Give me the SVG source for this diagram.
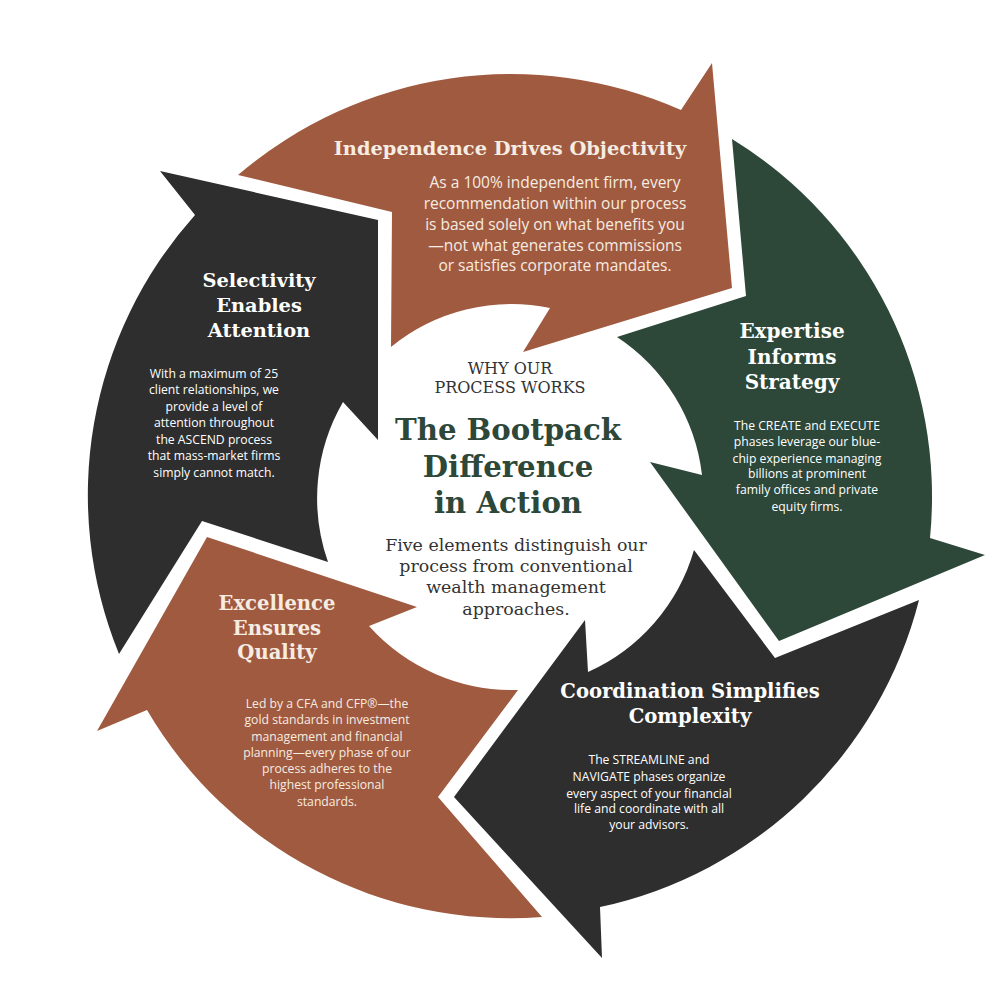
<svg xmlns="http://www.w3.org/2000/svg" width="1000" height="1000" viewBox="0 0 1000 1000">
<style>
.brown{fill:#a05a3f}
.dark{fill:#2e2e2e}
.green{fill:#2d4739}
.title{font-family:"DejaVu Serif","Liberation Serif",serif;font-weight:bold;text-anchor:middle}
.body{font-family:"Open Sans","Noto Sans",sans-serif;text-anchor:middle}
.lt{fill:#ffffff}
.cr{fill:#f6ece2}
.center{font-family:"DejaVu Serif","Liberation Serif",serif;text-anchor:middle;fill:#333333}
</style>
<rect width="1000" height="1000" fill="#ffffff"/>

<g id="independence">
<path class="brown" d="M238,175 L392,212 L391,347 A191 191 0 0 1 550,308 L523,352 L732,288 L712,63 L681,110 A420 420 0 0 0 238,175 Z"/>
<text class="title cr" x="510" y="155" font-size="19.4">Independence Drives Objectivity</text>
<g class="body cr" font-size="15.5">
<text x="555" y="188">As a 100% independent firm, every</text>
<text x="555" y="209">recommendation within our process</text>
<text x="555" y="230">is based solely on what benefits you</text>
<text x="555" y="251">—not what generates commissions</text>
<text x="555" y="271">or satisfies corporate mandates.</text>
</g>
</g>

<g id="expertise">
<path class="green" d="M732,139 L746,296 L617,337 A192 192 0 0 1 702,475 L650,462 L779,641 L985,555 L930,538 A420 420 0 0 0 732,139 Z"/>
<g class="title lt" font-size="20">
<text x="792" y="338">Expertise</text>
<text x="792" y="364">Informs</text>
<text x="792" y="389">Strategy</text>
</g>
<g class="body lt" font-size="12.2">
<text x="807" y="430">The CREATE and EXECUTE</text>
<text x="807" y="446">phases leverage our blue-</text>
<text x="807" y="463">chip experience managing</text>
<text x="807" y="478">billions at prominent</text>
<text x="807" y="494">family offices and private</text>
<text x="807" y="511">equity firms.</text>
</g>
</g>

<g id="coordination">
<path class="dark" d="M919,600 L775,658 L694,550 A192 192 0 0 1 588,672 L585,620 L454,797 L602,958 L600,907 A420 420 0 0 0 919,600 Z"/>
<g class="title lt" font-size="19.6">
<text x="690" y="698">Coordination Simplifies</text>
<text x="690" y="723">Complexity</text>
</g>
<g class="body lt" font-size="12.2">
<text x="649" y="764">The STREAMLINE and</text>
<text x="649" y="781">NAVIGATE phases organize</text>
<text x="649" y="798">every aspect of your financial</text>
<text x="649" y="813">life and coordinate with all</text>
<text x="649" y="829">your advisors.</text>
</g>
</g>

<g id="excellence">
<path class="brown" d="M542,917 L438,797 L518,690 A193 193 0 0 1 369,626 L417,607 L207,537 L97,731 L147,710 A421 421 0 0 0 542,917 Z"/>
<g class="title cr" font-size="19.6">
<text x="277" y="610">Excellence</text>
<text x="277" y="635">Ensures</text>
<text x="277" y="659">Quality</text>
</g>
<g class="body cr" font-size="12.2">
<text x="327" y="708">Led by a CFA and CFP®—the</text>
<text x="327" y="724">gold standards in investment</text>
<text x="327" y="741">management and financial</text>
<text x="327" y="757">planning—every phase of our</text>
<text x="327" y="773">process adheres to the</text>
<text x="327" y="789">highest professional</text>
<text x="327" y="806">standards.</text>
</g>
</g>

<g id="selectivity">
<path class="dark" d="M160,171 L378,220 L378,440 L343,402 A192 192 0 0 0 328,562 L202,521 L119,654 A420 420 0 0 1 195,215 Z"/>
<g class="title lt" font-size="19.4">
<text x="259" y="287">Selectivity</text>
<text x="259" y="312">Enables</text>
<text x="259" y="337">Attention</text>
</g>
<g class="body lt" font-size="12.2">
<text x="214" y="378">With a maximum of 25</text>
<text x="214" y="394">client relationships, we</text>
<text x="214" y="411">provide a level of</text>
<text x="214" y="427">attention throughout</text>
<text x="214" y="444">the ASCEND process</text>
<text x="214" y="460">that mass-market firms</text>
<text x="214" y="477">simply cannot match.</text>
</g>
</g>

<g id="center">
<text class="center" x="510" y="374" font-size="16">WHY OUR</text>
<text class="center" x="510" y="393" font-size="16">PROCESS WORKS</text>
<g class="center" font-size="29.2" font-weight="bold" style="fill:#2d4739">
<text x="508" y="440">The Bootpack</text>
<text x="508" y="477">Difference</text>
<text x="508" y="513">in Action</text>
</g>
<g class="center" font-size="17.4">
<text x="516" y="551">Five elements distinguish our</text>
<text x="516" y="572">process from conventional</text>
<text x="516" y="593">wealth management</text>
<text x="516" y="615">approaches.</text>
</g>
</g>
</svg>
